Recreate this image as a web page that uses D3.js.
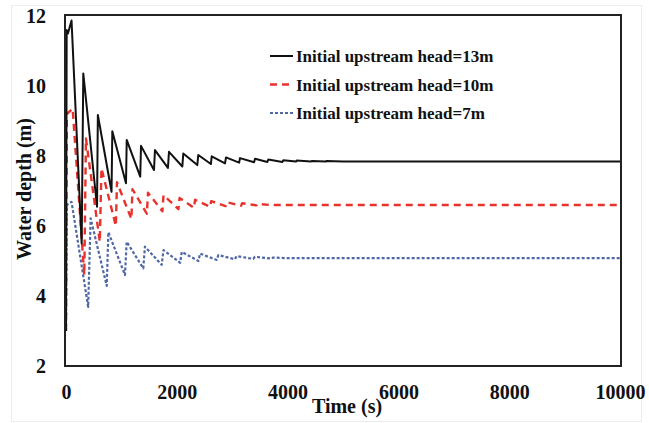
<!DOCTYPE html>
<html>
<head>
<meta charset="utf-8">
<script src="https://cdn.jsdelivr.net/npm/d3@7"></script>
<style>
	body { margin: 0; background: #fff; }
	text { font-family: "Liberation Serif", "Times New Roman", serif; font-weight: bold; fill: #111; }
</style>
</head>
<body>
<svg id="chart"></svg>
<script>
// time (s) and water depth (m) at the turning points
const time13 = [0, 12, 35, 100, 283, 312, 560, 575, 822, 836, 1083, 1096, 1340, 1354, 1588, 1606, 1840, 1859,
	2100, 2117, 2370, 2388, 2615, 2630, 2870, 2888, 3125, 3141, 3395, 3412, 3635, 3652, 3905, 3923,
	4150, 4164, 4420, 4435, 4690, 4700, 5000, 10000] ;
const depth13 = [3.0, 11.6, 11.5, 11.87, 5.5, 10.36, 6.55, 9.17, 6.98, 8.71, 7.22, 8.46, 7.41, 8.29, 7.6, 8.17, 7.66, 8.12,
	7.7, 8.07, 7.74, 8.03, 7.77, 7.99, 7.79, 7.96, 7.81, 7.94, 7.82, 7.92, 7.83, 7.9, 7.83, 7.88,
	7.84, 7.87, 7.84, 7.86, 7.84, 7.855, 7.845, 7.845] ;

const time10 = [0, 15, 120, 330, 360, 610, 640, 900, 920, 1180, 1200, 1460, 1480, 1740, 1760, 2030, 2050,
	2310, 2330, 2600, 2620, 2880, 2900, 3160, 3180, 3440, 3460, 3700, 10000] ;
const depth10 = [3.0, 9.2, 9.35, 4.6, 8.5, 5.55, 7.65, 6.0, 7.25, 6.2, 7.05, 6.35, 6.95, 6.42, 6.88, 6.48, 6.8,
	6.52, 6.75, 6.55, 6.71, 6.57, 6.68, 6.58, 6.65, 6.59, 6.63, 6.6, 6.6] ;

const time7 = [0, 15, 100, 400, 445, 735, 765, 1065, 1095, 1395, 1425, 1727, 1760, 2060, 2090, 2390, 2420,
	2720, 2750, 3050, 3080, 3380, 3410, 3710, 3740, 4000, 10000] ;
const depth7 = [3.0, 6.6, 6.69, 3.69, 6.22, 4.29, 5.82, 4.6, 5.55, 4.79, 5.41, 4.89, 5.31, 4.95, 5.26, 5.0, 5.21,
	5.03, 5.17, 5.05, 5.14, 5.06, 5.12, 5.07, 5.1, 5.08, 5.08] ;

const seriesNames = ['Initial upstream head=13m', 'Initial upstream head=10m', 'Initial upstream head=7m'] ;
const xTicks = [0, 2000, 4000, 6000, 8000, 10000] ;
const yTicks = [2, 4, 6, 8, 10, 12] ;

const geom = {
	width: 649,
	height: 423,
	margins: { left: 66, right: 29, top: 16, bottom: 57 }
} ;

const styles = [
	{ color: '#111111', width: 2, dash: null },
	{ color: '#e8322c', width: 2.4, dash: '7,5' },
	{ color: '#5068a6', width: 2.2, dash: '3,2' }
] ;

const x = d3.scaleLinear()
	.domain( [0, 10000] )
	.range( [geom.margins.left, geom.width - geom.margins.right] ) ;
const y = d3.scaleLinear()
	.domain( [2, 12] )
	.range( [geom.height - geom.margins.bottom, geom.margins.top] ) ;

const svg = d3.select('#chart')
	.attr( 'width', geom.width )
	.attr( 'height', geom.height ) ;

// faint outer border of the figure
svg.append( 'rect' )
	.attr( 'x', 11.5 ).attr( 'y', 5.5 )
	.attr( 'width', 630 ).attr( 'height', 416 )
	.attr( 'fill', 'none' )
	.attr( 'stroke', '#ececec' ) ;

const data = [
	time13.map( (t, i) => ({ t: t, v: depth13[i] }) ),
	time10.map( (t, i) => ({ t: t, v: depth10[i] }) ),
	time7.map( (t, i) => ({ t: t, v: depth7[i] }) )
] ;

const line = d3.line()
	.x( d => x(d.t) )
	.y( d => y(d.v) ) ;

// draw the lightest first so the black line sits on top
[2, 1, 0].forEach( k => {
	svg.append( 'path' )
		.datum( data[k] )
		.attr( 'd', line )
		.attr( 'fill', 'none' )
		.attr( 'stroke', styles[k].color )
		.attr( 'stroke-width', styles[k].width )
		.attr( 'stroke-linejoin', 'round' )
		.attr( 'stroke-dasharray', styles[k].dash ) ;
} ) ;

// plot frame
svg.append( 'rect' )
	.attr( 'x', x(0) - 1 )
	.attr( 'y', y(12) - 1 )
	.attr( 'width', x(10000) - x(0) + 2 )
	.attr( 'height', y(2) - y(12) + 1 )
	.attr( 'fill', 'none' )
	.attr( 'stroke', '#222' )
	.attr( 'stroke-width', 2 ) ;

const xAxis = svg.append( 'g' )
	.attr( 'transform', 'translate(0 ' + y(2) + ')' )
	.call( d3.axisBottom(x).tickValues(xTicks).tickFormat(d3.format('d')).tickSize(0).tickPadding(19) ) ;
const yAxis = svg.append( 'g' )
	.attr( 'transform', 'translate(' + x(0) + ' 0)' )
	.call( d3.axisLeft(y).tickValues(yTicks).tickSize(0).tickPadding(20) ) ;

[xAxis, yAxis].forEach( ax => {
	ax.select( '.domain' ).remove() ;
	ax.selectAll( 'text' )
		.attr( 'font-family', null )
		.style( 'font-size', '20px' )
		.attr( 'fill', null ) ;
} ) ;

svg.append( 'text' )
	.attr( 'x', 347 )
	.attr( 'y', 413 )
	.attr( 'text-anchor', 'middle' )
	.style( 'font-size', '20px' )
	.text( 'Time (s)' ) ;

svg.append( 'text' )
	.attr( 'transform', 'translate(31 189) rotate(-90)' )
	.attr( 'text-anchor', 'middle' )
	.style( 'font-size', '20px' )
	.text( 'Water depth (m)' ) ;

// legend
const legend = svg.append( 'g' )
	.attr( 'transform', 'translate(270 56)' ) ;
seriesNames.forEach( (name, k) => {
	const row = legend.append( 'g' )
		.attr( 'transform', 'translate(0 ' + (k * 28.5) + ')' ) ;
	row.append( 'line' )
		.attr( 'x1', 0 ).attr( 'x2', 23 )
		.attr( 'y1', 0 ).attr( 'y2', 0 )
		.attr( 'stroke', styles[k].color )
		.attr( 'stroke-width', styles[k].width )
		.attr( 'stroke-dasharray', styles[k].dash ) ;
	row.append( 'text' )
		.attr( 'x', 26 )
		.attr( 'y', 6 )
		.style( 'font-size', '17px' )
		.text( name ) ;
} ) ;
</script>
</body>
</html>
